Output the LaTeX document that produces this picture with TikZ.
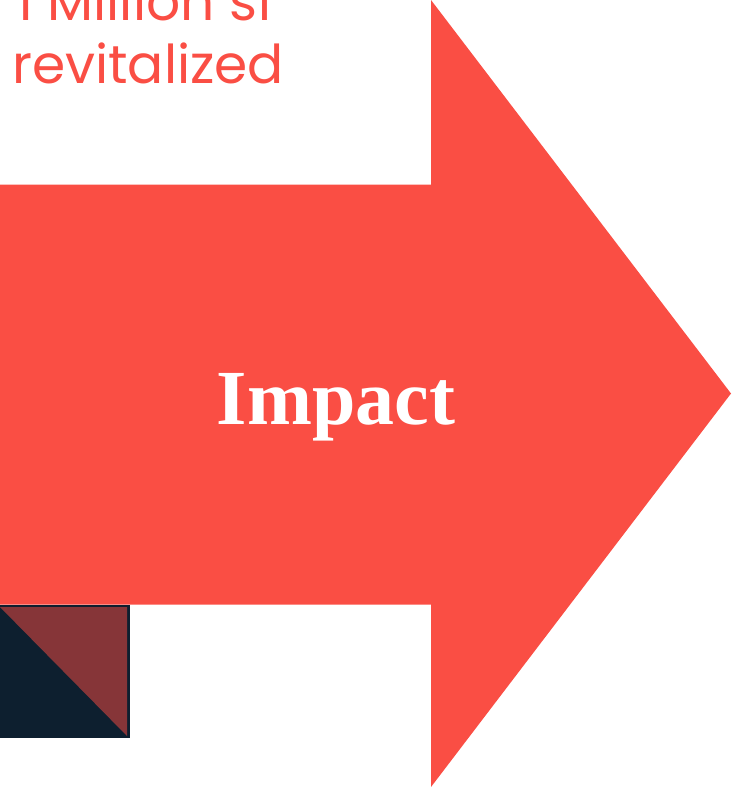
\documentclass[tikz,border=0pt]{standalone}
\usepackage{fontspec}
\setmainfont{Liberation Serif}
\newfontfamily\captionfont{Poppins}
\definecolor{arrowred}{HTML}{FA4E44}
\definecolor{navy}{HTML}{0D1F2F}
\definecolor{brickbrown}{HTML}{863538}
\begin{document}
\begin{tikzpicture}[x=1pt,y=-1pt,
  captext/.style={text=arrowred,font=\captionfont\fontsize{53.5}{60}\selectfont,inner sep=0pt,anchor=base west},
  titletext/.style={text=white,font=\bfseries\fontsize{78}{80}\selectfont,inner sep=0pt,anchor=base}]
\useasboundingbox (0,0) rectangle (731,787);
% big arrow
\fill[arrowred] (0,184.5) -- (431,184.5) -- (431,0) -- (731,393.5) -- (431,787) -- (431,604.5) -- (0,604.5) -- cycle;
\node[titletext] (impact) at (336,424) {Impact};
% caption text
\node[captext] (line1) at (16,20) {1 Million sf};
\node[captext] (line2) at (12,83) {revitalized};
% small square
\fill[navy] (0,605) rectangle (130,738);
\fill[brickbrown] (0,607) -- (127,607) -- (127,736) -- cycle;
\end{tikzpicture}
\end{document}
